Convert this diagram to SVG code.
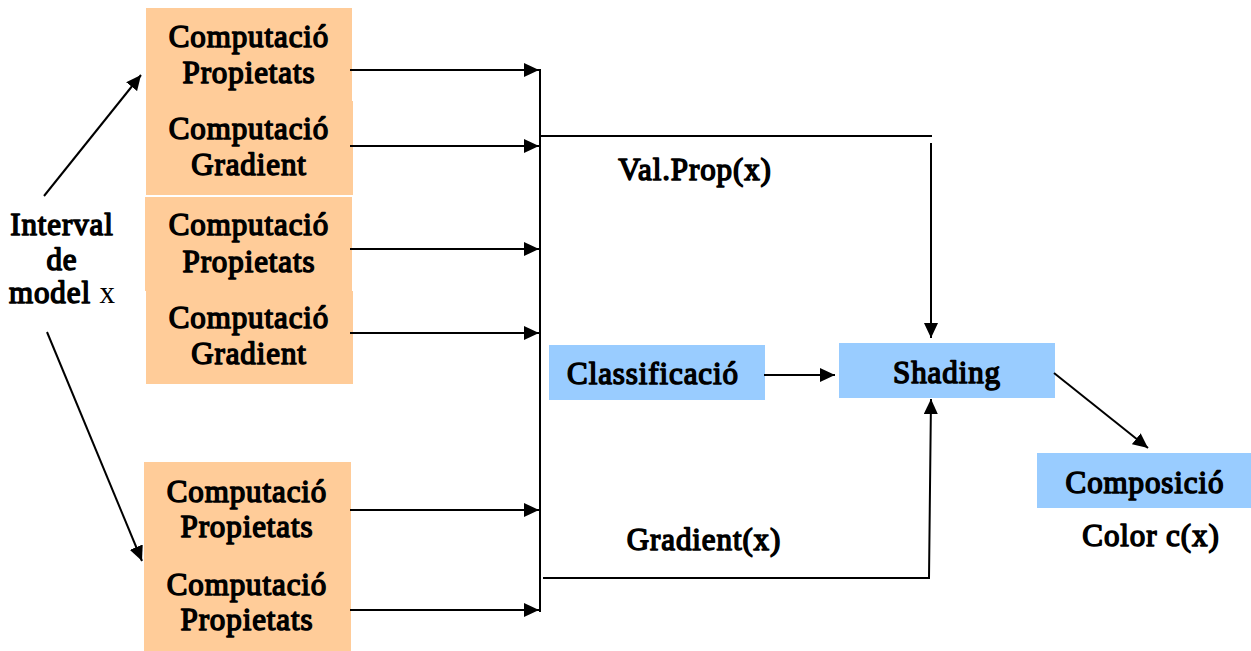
<svg xmlns="http://www.w3.org/2000/svg" width="1251" height="651" viewBox="0 0 1251 651">
  <style>
    .orange { fill: #FFCC99; }
    .blue { fill: #99CCFF; }
    /* heavy serif lettering: regular face thickened with a stroke */
    .t text { font-family: "Liberation Serif", "Times New Roman", serif; font-size: 31px; font-weight: normal; letter-spacing: 0.9px; fill: #000; stroke: #000; stroke-width: 1.5px; stroke-linejoin: round; text-anchor: middle; }
    .t .reg { stroke: none; letter-spacing: 0; }
    .wire { stroke: #000; stroke-width: 2; fill: none; }
    .arrow { stroke: #000; stroke-width: 2; fill: none; marker-end: url(#ah); }
  </style>
  <defs>
    <marker id="ah" viewBox="0 0 15 14" refX="15" refY="7" markerWidth="15" markerHeight="14" markerUnits="userSpaceOnUse" orient="auto">
      <path d="M0,0 L15,7 L0,14 z" fill="#000"/>
    </marker>
  </defs>
  <rect width="1251" height="651" fill="#fff"/>

  <g class="t">
    <!-- input label -->
    <g id="interval">
      <text x="62" y="235">Interval</text>
      <text x="62" y="270">de</text>
      <text x="62" y="303">model <tspan class="reg">x</tspan></text>
    </g>

    <!-- property / gradient computation stages -->
    <g id="prop1">
      <rect class="orange" x="146" y="8" width="206" height="93"/>
      <text x="249" y="47">Computació</text>
      <text x="249" y="83">Propietats</text>
    </g>
    <g id="grad1">
      <rect class="orange" x="146" y="101" width="207" height="94"/>
      <text x="249" y="139">Computació</text>
      <text x="249" y="175">Gradient</text>
    </g>
    <g id="prop2">
      <rect class="orange" x="145" y="197" width="207" height="94"/>
      <text x="249" y="235">Computació</text>
      <text x="249" y="272">Propietats</text>
    </g>
    <g id="grad2">
      <rect class="orange" x="146" y="291" width="207" height="93"/>
      <text x="249" y="328">Computació</text>
      <text x="249" y="364">Gradient</text>
    </g>
    <g id="prop3">
      <rect class="orange" x="144" y="462" width="207" height="93"/>
      <text x="247" y="502">Computació</text>
      <text x="247" y="537">Propietats</text>
    </g>
    <g id="prop4">
      <rect class="orange" x="144" y="555" width="207" height="96"/>
      <text x="247" y="595">Computació</text>
      <text x="247" y="630">Propietats</text>
    </g>

    <!-- rendering stages -->
    <g id="classificacio">
      <rect class="blue" x="549" y="345" width="216" height="55"/>
      <text x="653" y="384">Classificació</text>
    </g>
    <g id="shading">
      <rect class="blue" x="839" y="343" width="216" height="55"/>
      <text x="947" y="383">Shading</text>
    </g>
    <g id="composicio">
      <rect class="blue" x="1037" y="453" width="214" height="55"/>
      <text x="1145" y="493">Composició</text>
    </g>

    <!-- edge labels -->
    <g id="labels">
      <text x="695" y="180">Val.Prop(x)</text>
      <text x="704" y="550">Gradient(x)</text>
      <text x="1151" y="546">Color c(x)</text>
    </g>
  </g>

  <g id="connectors">
    <!-- fan-out from the model interval -->
    <line class="arrow" x1="44" y1="196" x2="141" y2="75"/>
    <line class="arrow" x1="47" y1="332" x2="142" y2="561"/>

    <!-- stage outputs into the collector bus -->
    <line class="arrow" x1="350" y1="70" x2="539" y2="70"/>
    <line class="arrow" x1="350" y1="146" x2="539" y2="146"/>
    <line class="arrow" x1="350" y1="249" x2="539" y2="249"/>
    <line class="arrow" x1="350" y1="333" x2="539" y2="333"/>
    <line class="arrow" x1="350" y1="510" x2="539" y2="510"/>
    <line class="arrow" x1="350" y1="610" x2="539" y2="610"/>
    <line class="wire" x1="540" y1="69" x2="540" y2="612"/>

    <!-- property values to shading -->
    <line class="wire" x1="540" y1="136" x2="932" y2="136"/>
    <line class="arrow" x1="931" y1="143" x2="931" y2="338"/>

    <!-- gradient to shading -->
    <polyline class="arrow" points="543,578 929,578 931,399"/>

    <!-- classification to shading -->
    <line class="arrow" x1="764" y1="375" x2="835" y2="375"/>

    <!-- shading to composition -->
    <line class="arrow" x1="1054" y1="373" x2="1148" y2="448"/>
  </g>
</svg>
